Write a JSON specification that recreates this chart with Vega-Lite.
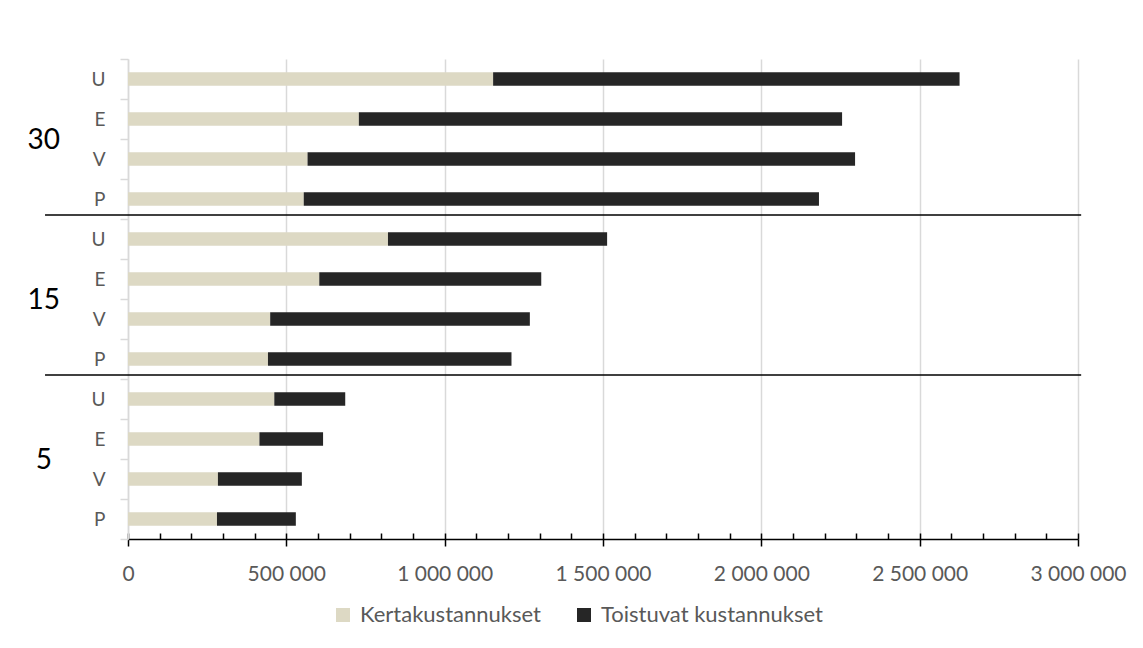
{
  "$schema": "https://vega.github.io/schema/vega-lite/v6.json",
  "width": 950,
  "height": 480,
  "autosize": {"type": "none"},
  "padding": {"left": 128, "top": 59, "right": 65, "bottom": 109},
  "background": "white",
  "config": {"font": "Lato", "view": {"stroke": null}, "legend": {"labelFontSize": 22, "labelLimit": 0, "padding": 0}},
  "datasets": {
    "bars": [
      {"key": "30|U", "type": "Kertakustannukset", "value": 1153000},
      {"key": "30|U", "type": "Toistuvat kustannukset", "value": 1473000},
      {"key": "30|E", "type": "Kertakustannukset", "value": 729000},
      {"key": "30|E", "type": "Toistuvat kustannukset", "value": 1526000},
      {"key": "30|V", "type": "Kertakustannukset", "value": 567000},
      {"key": "30|V", "type": "Toistuvat kustannukset", "value": 1729000},
      {"key": "30|P", "type": "Kertakustannukset", "value": 555000},
      {"key": "30|P", "type": "Toistuvat kustannukset", "value": 1627000},
      {"key": "15|U", "type": "Kertakustannukset", "value": 821000},
      {"key": "15|U", "type": "Toistuvat kustannukset", "value": 692000},
      {"key": "15|E", "type": "Kertakustannukset", "value": 604000},
      {"key": "15|E", "type": "Toistuvat kustannukset", "value": 701000},
      {"key": "15|V", "type": "Kertakustannukset", "value": 449000},
      {"key": "15|V", "type": "Toistuvat kustannukset", "value": 820000},
      {"key": "15|P", "type": "Kertakustannukset", "value": 442000},
      {"key": "15|P", "type": "Toistuvat kustannukset", "value": 769000},
      {"key": "5|U", "type": "Kertakustannukset", "value": 462000},
      {"key": "5|U", "type": "Toistuvat kustannukset", "value": 224000},
      {"key": "5|E", "type": "Kertakustannukset", "value": 415000},
      {"key": "5|E", "type": "Toistuvat kustannukset", "value": 201000},
      {"key": "5|V", "type": "Kertakustannukset", "value": 284000},
      {"key": "5|V", "type": "Toistuvat kustannukset", "value": 265000},
      {"key": "5|P", "type": "Kertakustannukset", "value": 281000},
      {"key": "5|P", "type": "Toistuvat kustannukset", "value": 249000}
    ],
    "groups": [
      {"key": "30|E", "g": "30"},
      {"key": "15|E", "g": "15"},
      {"key": "5|E", "g": "5"}
    ],
    "separators": [
      {"key": "30|P"},
      {"key": "15|P"}
    ]
  },
  "layer": [
    {
      "data": {"name": "bars"},
      "mark": {"type": "bar", "height": {"band": 0.34}},
      "encoding": {
        "y": {
          "field": "key",
          "type": "nominal",
          "sort": null,
          "title": null,
          "scale": {"paddingInner": 0, "paddingOuter": 0},
          "axis": {
            "tickBand": "extent",
            "tickSize": 8,
            "tickColor": "#d9d9d9",
            "tickWidth": 1.5,
            "domainColor": "#d9d9d9",
            "domainWidth": 1.5,
            "grid": false,
            "labelExpr": "split(datum.value, '|')[1]",
            "labelFont": "Lato",
            "labelFontSize": 19,
            "labelColor": "#595959",
            "labelPadding": 15
          }
        },
        "x": {
          "field": "value",
          "type": "quantitative",
          "stack": "zero",
          "title": null,
          "scale": {"domain": [0, 3000000], "nice": false},
          "axis": {
            "orient": "bottom",
            "values": [0, 500000, 1000000, 1500000, 2000000, 2500000, 3000000],
            "labelExpr": "replace(replace(format(datum.value, ','), ',', ' '), ',', ' ')",
            "grid": true,
            "gridColor": "#d9d9d9",
            "gridWidth": 1.5,
            "domainColor": "black",
            "domainWidth": 1.5,
            "tickColor": "black",
            "tickWidth": 1.5,
            "tickSize": 7,
            "labelPadding": 17,
            "labelFont": "Lato",
            "labelFontSize": 21,
            "labelColor": "#595959",
            "labelFlush": false,
            "labelOverlap": false
          }
        },
        "color": {
          "field": "type",
          "type": "nominal",
          "scale": {
            "domain": ["Kertakustannukset", "Toistuvat kustannukset"],
            "range": ["#ddd9c4", "#262626"]
          },
          "legend": {
            "orient": "none",
            "legendX": 204,
            "legendY": 545,
            "direction": "horizontal",
            "columns": 2,
            "title": null,
            "padding": 0,
            "symbolType": "square",
            "symbolSize": 196,
            "symbolStrokeWidth": 0,
            "labelFont": "Lato",
            "labelFontSize": 22,
            "labelLimit": 0,
            "labelColor": "#595959",
            "labelOffset": 6,
            "columnPadding": 32
          }
        },
        "order": {"field": "type", "sort": "ascending"}
      }
    },
    {
      "data": {"name": "separators"},
      "mark": {"type": "rule", "color": "black", "strokeWidth": 1.5},
      "encoding": {
        "y": {"field": "key", "type": "nominal", "sort": null, "bandPosition": 0.9},
        "x": {
          "datum": -262000,
          "type": "quantitative",
          "axis": {
            "orient": "bottom",
            "values": [0, 100000, 200000, 300000, 400000, 500000, 600000, 700000, 800000, 900000, 1000000, 1100000, 1200000, 1300000, 1400000, 1500000, 1600000, 1700000, 1800000, 1900000, 2000000, 2100000, 2200000, 2300000, 2400000, 2500000, 2600000, 2700000, 2800000, 2900000, 3000000],
            "tickSize": -6,
            "tickColor": "black",
            "tickWidth": 1.5,
            "labels": false,
            "domain": false,
            "grid": false,
            "title": null
          }
        },
        "x2": {"datum": 3010000}
      }
    },
    {
      "data": {"name": "groups"},
      "mark": {"type": "text", "font": "Lato", "fontSize": 28, "color": "black", "align": "center", "baseline": "middle", "dy": 22},
      "encoding": {
        "y": {"field": "key", "type": "nominal", "sort": null},
        "x": {"datum": -266000, "type": "quantitative", "axis": null},
        "text": {"field": "g"}
      }
    }
  ],
  "resolve": {"axis": {"x": "independent"}}
}
